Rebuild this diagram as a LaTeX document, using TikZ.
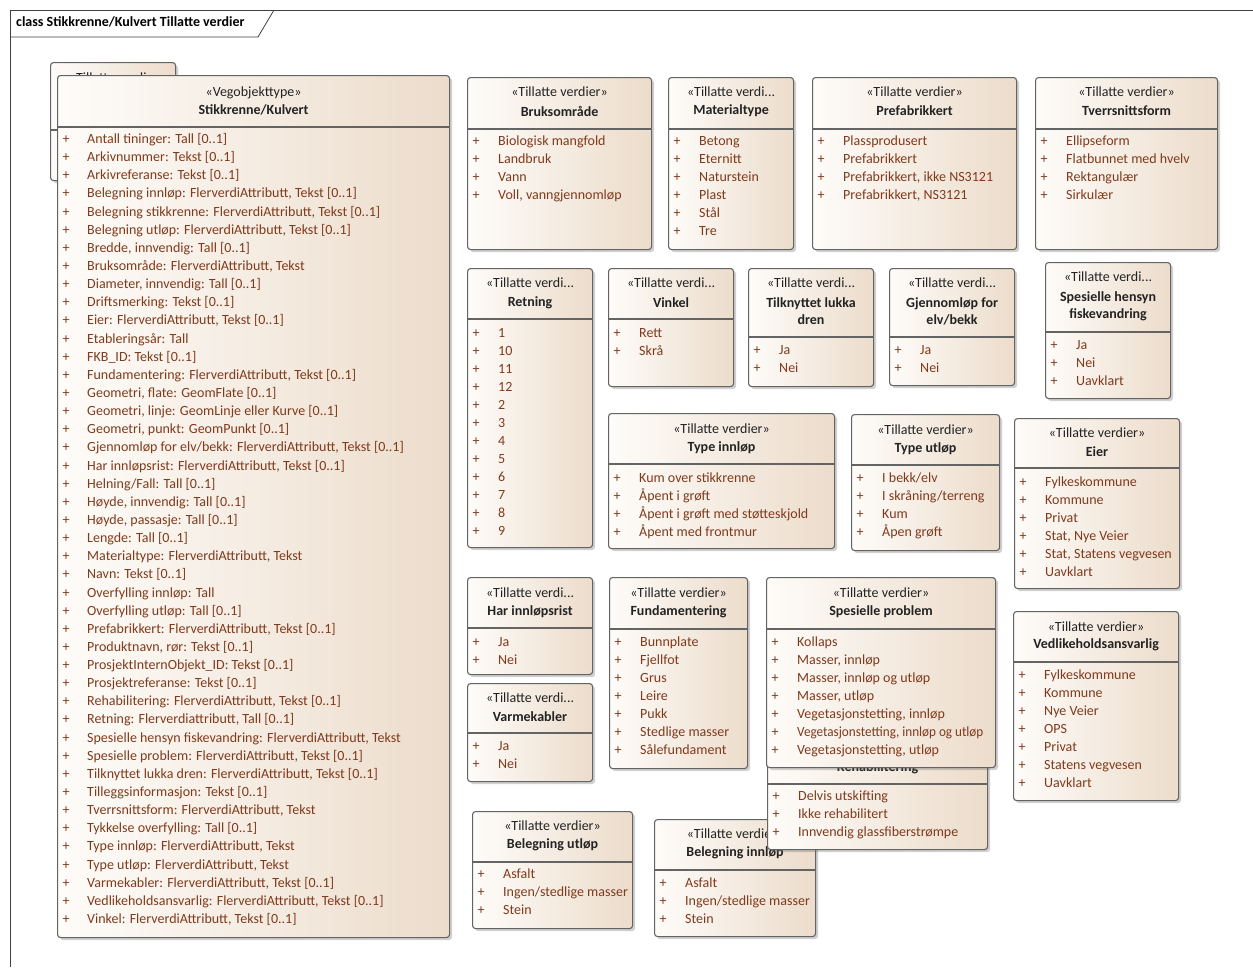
\documentclass[tikz,border=0pt]{standalone}
\usepackage{fontspec}
\setmainfont{Carlito}
\usetikzlibrary{shadows}

\definecolor{boxl}{RGB}{254,252,249}
\definecolor{boxr}{RGB}{236,220,203}
\definecolor{bordc}{RGB}{100,100,100}
\definecolor{valc}{RGB}{128,58,28}
\definecolor{stc}{RGB}{35,35,35}

% list of values in an enumeration box: name, left x, first y, values
\newcommand{\tvitems}[4]{%
  \foreach \v [count=\i from 0] in {#4} {
    \node[plus] (#1-p\i) at (#2+9,#3+18*\i) {+};
    \node[val] (#1-\i) at (#2+31,#3+18*\i) {\v};
  }}

\begin{document}
\begin{tikzpicture}[x=1pt, y=-1pt,
    box/.style={draw=bordc, line width=1.1pt, rounded corners=3pt, left color=boxl, right color=boxr,
      drop shadow={shadow xshift=2.5pt, shadow yshift=-2.5pt, opacity=0.3, fill=black!60},
      anchor=north west, inner sep=0pt},
    sep/.style={draw=bordc, line width=1.1pt},
    stereo/.style={font=\fontsize{14}{17}\selectfont, text=stc, inner sep=0pt, text height=10pt, text depth=3pt},
    title/.style={font=\fontsize{14}{17}\selectfont\bfseries, text=stc, inner sep=0pt, align=center},
    plus/.style={font=\fontsize{14}{17}\selectfont, text=valc, inner sep=0pt, text height=10pt, text depth=3pt},
    val/.style={font=\fontsize{14}{17}\selectfont, text=valc, inner sep=0pt, anchor=west, text height=10pt, text depth=3pt}]
  \useasboundingbox (0,0) rectangle (1253,967);
  \fill[white] (0,0) rectangle (1253,967);

  % frame
  \draw[line width=0.8pt, draw=black!75] (10,967) -- (10,10) -- (1253,10);
  \draw[line width=0.8pt, draw=black!75] (10,37) -- (258,37) -- (274,10);
  \node[anchor=west, inner sep=0pt, font=\fontsize{14}{17}\selectfont\bfseries] (frametitle) at (16,22) {class Stikkrenne/Kulvert Tillatte verdier};

  % hidden box behind the main class
  \node[box, minimum width=125pt, minimum height=118pt] (bsti) at (50,62) {};
  \draw[sep] (50,130) -- (175,130);
  \node[stereo] (bsti-s) at (bsti.north |- 0,79) {«Tillatte verdi...};

  % main class
  \node[box, minimum width=392pt, minimum height=862pt] (kulv) at (57,75) {};
  \draw[sep] (57,127) -- (449,127);
  \node[stereo] (kulv-s) at (kulv.north |- 0,93) {«Vegobjekttype»};
  \node[title] (kulv-t) at (kulv.north |- 0,110) {Stikkrenne/Kulvert};
  \foreach \v [count=\i from 0] in {
      {Antall tininger: Tall [0..1]},
      {Arkivnummer: Tekst [0..1]},
      {Arkivreferanse: Tekst [0..1]},
      {Belegning innløp: FlerverdiAttributt, Tekst [0..1]},
      {Belegning stikkrenne: FlerverdiAttributt, Tekst [0..1]},
      {Belegning utløp: FlerverdiAttributt, Tekst [0..1]},
      {Bredde, innvendig: Tall [0..1]},
      {Bruksområde: FlerverdiAttributt, Tekst},
      {Diameter, innvendig: Tall [0..1]},
      {Driftsmerking: Tekst [0..1]},
      {Eier: FlerverdiAttributt, Tekst [0..1]},
      {Etableringsår: Tall},
      {FKB\_ID: Tekst [0..1]},
      {Fundamentering: FlerverdiAttributt, Tekst [0..1]},
      {Geometri, flate: GeomFlate [0..1]},
      {Geometri, linje: GeomLinje eller Kurve [0..1]},
      {Geometri, punkt: GeomPunkt [0..1]},
      {Gjennomløp for elv/bekk: FlerverdiAttributt, Tekst [0..1]},
      {Har innløpsrist: FlerverdiAttributt, Tekst [0..1]},
      {Helning/Fall: Tall [0..1]},
      {Høyde, innvendig: Tall [0..1]},
      {Høyde, passasje: Tall [0..1]},
      {Lengde: Tall [0..1]},
      {Materialtype: FlerverdiAttributt, Tekst},
      {Navn: Tekst [0..1]},
      {Overfylling innløp: Tall},
      {Overfylling utløp: Tall [0..1]},
      {Prefabrikkert: FlerverdiAttributt, Tekst [0..1]},
      {Produktnavn, rør: Tekst [0..1]},
      {ProsjektInternObjekt\_ID: Tekst [0..1]},
      {Prosjektreferanse: Tekst [0..1]},
      {Rehabilitering: FlerverdiAttributt, Tekst [0..1]},
      {Retning: Flerverdiattributt, Tall [0..1]},
      {Spesielle hensyn fiskevandring: FlerverdiAttributt, Tekst},
      {Spesielle problem: FlerverdiAttributt, Tekst [0..1]},
      {Tilknyttet lukka dren: FlerverdiAttributt, Tekst [0..1]},
      {Tilleggsinformasjon: Tekst [0..1]},
      {Tverrsnittsform: FlerverdiAttributt, Tekst},
      {Tykkelse overfylling: Tall [0..1]},
      {Type innløp: FlerverdiAttributt, Tekst},
      {Type utløp: FlerverdiAttributt, Tekst},
      {Varmekabler: FlerverdiAttributt, Tekst [0..1]},
      {Vedlikeholdsansvarlig: FlerverdiAttributt, Tekst [0..1]},
      {Vinkel: FlerverdiAttributt, Tekst [0..1]}} {
    \node[plus] (kulv-p\i) at (66,140+18.14*\i) {+};
    \node[val] (kulv-\i) at (87,140+18.14*\i) {\v};
  }

  % Bruksområde
  \node[box, minimum width=184pt, minimum height=172pt] (bruk) at (467,77) {};
  \draw[sep] (467,129) -- (651,129);
  \node[stereo] (bruk-s) at (bruk.north |- 0,93) {«Tillatte verdier»};
  \node[title] (bruk-t) at (bruk.north |- 0,111) {Bruksområde};
  \tvitems{bruk}{467}{142}{Biologisk mangfold, Landbruk, Vann, {Voll, vanngjennomløp}}

  % Materialtype
  \node[box, minimum width=125pt, minimum height=172pt] (matr) at (668,77) {};
  \draw[sep] (668,129) -- (793,129);
  \node[stereo] (matr-s) at (matr.north |- 0,93) {«Tillatte verdi...};
  \node[title] (matr-t) at (matr.north |- 0,111) {Materialtype};
  \tvitems{matr}{668}{142}{Betong, Eternitt, Naturstein, Plast, Stål, Tre}

  % Prefabrikkert
  \node[box, minimum width=204pt, minimum height=172pt] (pref) at (812,77) {};
  \draw[sep] (812,129) -- (1016,129);
  \node[stereo] (pref-s) at (pref.north |- 0,93) {«Tillatte verdier»};
  \node[title] (pref-t) at (pref.north |- 0,111) {Prefabrikkert};
  \tvitems{pref}{812}{142}{Plassprodusert, Prefabrikkert, {Prefabrikkert, ikke NS3121}, {Prefabrikkert, NS3121}}

  % Tverrsnittsform
  \node[box, minimum width=182pt, minimum height=172pt] (tver) at (1035,77) {};
  \draw[sep] (1035,129) -- (1217,129);
  \node[stereo] (tver-s) at (tver.north |- 0,93) {«Tillatte verdier»};
  \node[title] (tver-t) at (tver.north |- 0,111) {Tverrsnittsform};
  \tvitems{tver}{1035}{142}{Ellipseform, Flatbunnet med hvelv, Rektangulær, Sirkulær}

  % Retning
  \node[box, minimum width=125pt, minimum height=279pt] (retn) at (467,268) {};
  \draw[sep] (467,319) -- (592,319);
  \node[stereo] (retn-s) at (retn.north |- 0,284) {«Tillatte verdi...};
  \node[title] (retn-t) at (retn.north |- 0,303) {Retning};
  \tvitems{retn}{467}{334}{1, 10, 11, 12, 2, 3, 4, 5, 6, 7, 8, 9}

  % Vinkel
  \node[box, minimum width=125pt, minimum height=118pt] (vink) at (608,268) {};
  \draw[sep] (608,319) -- (733,319);
  \node[stereo] (vink-s) at (vink.north |- 0,284) {«Tillatte verdi...};
  \node[title] (vink-t) at (vink.north |- 0,303) {Vinkel};
  \tvitems{vink}{608}{334}{Rett, Skrå}

  % Tilknyttet lukka dren
  \node[box, minimum width=125pt, minimum height=118pt] (tilk) at (748,268) {};
  \draw[sep] (748,337) -- (873,337);
  \node[stereo] (tilk-s) at (tilk.north |- 0,284) {«Tillatte verdi...};
  \node[title] (tilk-t) at (tilk.north |- 0,311.5) {Tilknyttet lukka\\dren};
  \tvitems{tilk}{748}{351}{Ja, Nei}

  % Gjennomløp for elv/bekk
  \node[box, minimum width=125pt, minimum height=117pt] (gjen) at (889,268) {};
  \draw[sep] (889,337) -- (1014,337);
  \node[stereo] (gjen-s) at (gjen.north |- 0,284) {«Tillatte verdi...};
  \node[title] (gjen-t) at (gjen.north |- 0,311.5) {Gjennomløp for\\elv/bekk};
  \tvitems{gjen}{889}{351}{Ja, Nei}

  % Spesielle hensyn fiskevandring
  \node[box, minimum width=125pt, minimum height=136pt] (fisk) at (1045,262) {};
  \draw[sep] (1045,332) -- (1170,332);
  \node[stereo] (fisk-s) at (fisk.north |- 0,278) {«Tillatte verdi...};
  \node[title] (fisk-t) at (fisk.north |- 0,306) {Spesielle hensyn\\fiskevandring};
  \tvitems{fisk}{1045}{346}{Ja, Nei, Uavklart}

  % Type innløp
  \node[box, minimum width=226pt, minimum height=135pt] (tinn) at (608,413) {};
  \draw[sep] (608,464) -- (834,464);
  \node[stereo] (tinn-s) at (tinn.north |- 0,430) {«Tillatte verdier»};
  \node[title] (tinn-t) at (tinn.north |- 0,448) {Type innløp};
  \tvitems{tinn}{608}{479}{Kum over stikkrenne, Åpent i grøft, Åpent i grøft med støtteskjold, Åpent med frontmur}

  % Type utløp
  \node[box, minimum width=148pt, minimum height=136pt] (tutl) at (851,414) {};
  \draw[sep] (851,465) -- (999,465);
  \node[stereo] (tutl-s) at (tutl.north |- 0,431) {«Tillatte verdier»};
  \node[title] (tutl-t) at (tutl.north |- 0,449) {Type utløp};
  \tvitems{tutl}{851}{479}{I bekk/elv, I skråning/terreng, Kum, Åpen grøft}

  % Eier
  \node[box, minimum width=165pt, minimum height=170pt] (eier) at (1014,418) {};
  \draw[sep] (1014,468) -- (1179,468);
  \node[stereo] (eier-s) at (eier.north |- 0,434) {«Tillatte verdier»};
  \node[title] (eier-t) at (eier.north |- 0,452) {Eier};
  \tvitems{eier}{1014}{483}{Fylkeskommune, Kommune, Privat, {Stat, Nye Veier}, {Stat, Statens vegvesen}, Uavklart}

  % Har innløpsrist
  \node[box, minimum width=125pt, minimum height=97pt] (hinn) at (467,577) {};
  \draw[sep] (467,628) -- (592,628);
  \node[stereo] (hinn-s) at (hinn.north |- 0,594) {«Tillatte verdi...};
  \node[title] (hinn-t) at (hinn.north |- 0,612) {Har innløpsrist};
  \tvitems{hinn}{467}{643}{Ja, Nei}

  % Varmekabler
  \node[box, minimum width=125pt, minimum height=98pt] (varm) at (467,683) {};
  \draw[sep] (467,733) -- (592,733);
  \node[stereo] (varm-s) at (varm.north |- 0,699) {«Tillatte verdi...};
  \node[title] (varm-t) at (varm.north |- 0,717) {Varmekabler};
  \tvitems{varm}{467}{747}{Ja, Nei}

  % Fundamentering
  \node[box, minimum width=138pt, minimum height=191pt] (fund) at (609,577) {};
  \draw[sep] (609,629) -- (747,629);
  \node[stereo] (fund-s) at (fund.north |- 0,594) {«Tillatte verdier»};
  \node[title] (fund-t) at (fund.north |- 0,612) {Fundamentering};
  \tvitems{fund}{609}{643}{Bunnplate, Fjellfot, Grus, Leire, Pukk, Stedlige masser, Sålefundament}

  % Belegning innløp
  \node[box, minimum width=161pt, minimum height=117pt] (binn) at (654,819) {};
  \draw[sep] (654,870) -- (815,870);
  \node[stereo] (binn-s) at (binn.north |- 0,835) {«Tillatte verdier»};
  \node[title] (binn-t) at (binn.north |- 0,853) {Belegning innløp};
  \tvitems{binn}{654}{884}{Asfalt, Ingen/stedlige masser, Stein}

  % Rehabilitering
  \node[box, minimum width=220pt, minimum height=116pt] (rehb) at (767,733) {};
  \draw[sep] (767,784) -- (987,784);
  \node[stereo] (rehb-s) at (rehb.north |- 0,750) {«Tillatte verdier»};
  \node[title] (rehb-t) at (rehb.north |- 0,768) {Rehabilitering};
  \tvitems{rehb}{767}{797}{Delvis utskifting, Ikke rehabilitert, Innvendig glassfiberstrømpe}

  % Spesielle problem
  \node[box, minimum width=229pt, minimum height=190pt] (sprb) at (766,577) {};
  \draw[sep] (766,629) -- (995,629);
  \node[stereo] (sprb-s) at (sprb.north |- 0,594) {«Tillatte verdier»};
  \node[title] (sprb-t) at (sprb.north |- 0,612) {Spesielle problem};
  \tvitems{sprb}{766}{643}{Kollaps, {Masser, innløp}, {Masser, innløp og utløp}, {Masser, utløp}, {Vegetasjonstetting, innløp}, {\scalebox{0.94}[1]{Vegetasjonstetting, innløp og utløp}}, {Vegetasjonstetting, utløp}}

  % Vedlikeholdsansvarlig
  \node[box, minimum width=165pt, minimum height=189pt] (vedl) at (1013,611) {};
  \draw[sep] (1013,662) -- (1178,662);
  \node[stereo] (vedl-s) at (vedl.north |- 0,628) {«Tillatte verdier»};
  \node[title] (vedl-t) at (vedl.north |- 0,645) {Vedlikeholdsansvarlig};
  \tvitems{vedl}{1013}{676}{Fylkeskommune, Kommune, Nye Veier, OPS, Privat, Statens vegvesen, Uavklart}

  % Belegning utløp
  \node[box, minimum width=160pt, minimum height=117pt] (butl) at (472,811) {};
  \draw[sep] (472,862) -- (632,862);
  \node[stereo] (butl-s) at (butl.north |- 0,827) {«Tillatte verdier»};
  \node[title] (butl-t) at (butl.north |- 0,845) {Belegning utløp};
  \tvitems{butl}{472}{875}{Asfalt, Ingen/stedlige masser, Stein}
\end{tikzpicture}
\end{document}
